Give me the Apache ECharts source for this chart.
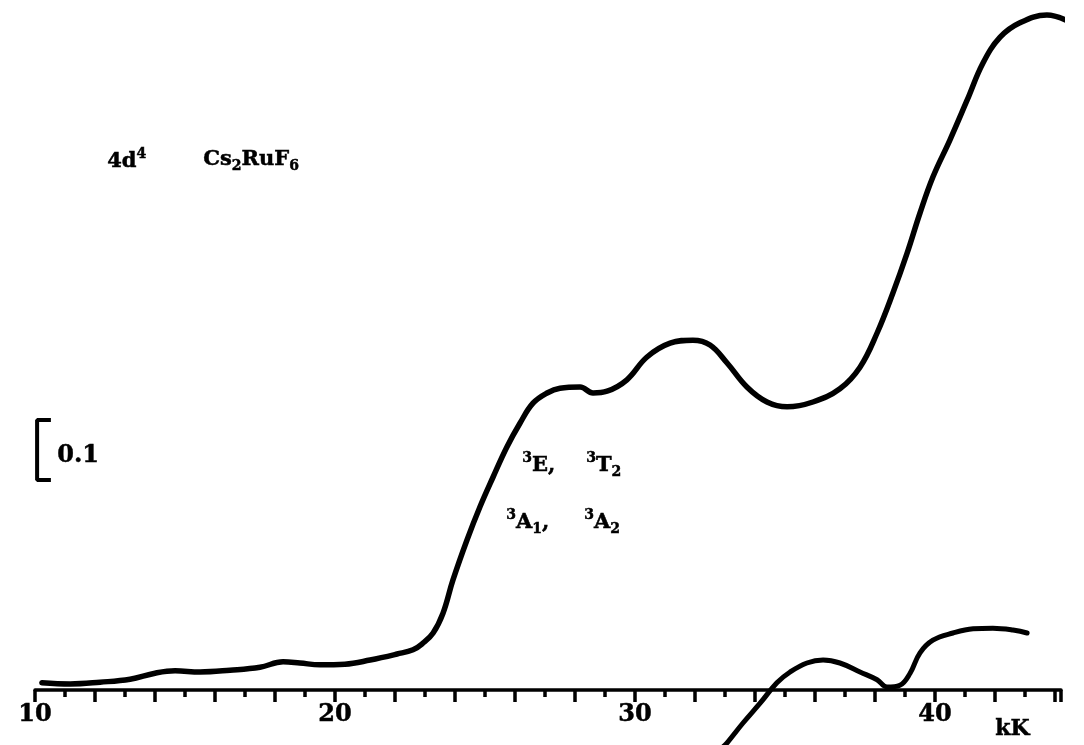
<!DOCTYPE html>
<html>
<head>
<meta charset="utf-8">
<script src="https://cdn.jsdelivr.net/npm/echarts@6/dist/echarts.min.js"></script>
<style>
  html, body { margin: 0; padding: 0; background: #fff; }
  #root { width: 1084px; height: 745px; }
</style>
</head>
<body>
<div id="root"></div>
<script>
// wavenumber in kK, absorbance (arbitrary baseline)
const mainX = [10.23, 11.17, 12.17, 13.17, 14.0, 14.67, 15.5, 16.5, 17.5, 18.27, 18.83, 19.5, 20.33, 21.17,
  22.07, 22.6, 22.93, 23.27, 23.6, 23.93, 24.4, 24.83, 25.27, 25.73, 26.17, 26.6, 27.07, 27.5, 28.17,
  28.6, 29.07, 29.73, 30.4, 31.17, 31.93, 32.5, 33.07, 33.73, 34.4, 35.07, 35.93, 36.83, 37.5, 38.07,
  38.6, 39.07, 39.5, 39.93, 40.5, 41.07, 41.6, 42.17, 42.83, 43.73, 44.5]
const mainY = [0.012, 0.010, 0.013, 0.018, 0.028, 0.032, 0.030, 0.033, 0.038, 0.047, 0.045, 0.042, 0.043, 0.050,
  0.060, 0.067, 0.078, 0.095, 0.128, 0.183, 0.250, 0.305, 0.355, 0.405, 0.445, 0.478, 0.495, 0.503, 0.505,
  0.495, 0.498, 0.517, 0.555, 0.578, 0.583, 0.575, 0.545, 0.505, 0.480, 0.472, 0.480, 0.502, 0.538, 0.595,
  0.662, 0.728, 0.795, 0.855, 0.917, 0.983, 1.045, 1.088, 1.112, 1.125, 1.113]

const lowerX = [32.93, 33.07, 33.6, 34.17, 34.73, 35.17, 35.73, 36.27, 36.83, 37.5, 38.07, 38.4, 38.83,
  39.17, 39.5, 39.93, 40.6, 41.27, 41.93, 42.6, 43.07]
const lowerY = [-0.095, -0.088, -0.055, -0.022, 0.012, 0.030, 0.045, 0.050, 0.045, 0.030, 0.017, 0.005, 0.008,
  0.028, 0.062, 0.083, 0.095, 0.102, 0.103, 0.100, 0.095]

// 0.1 scale bracket
const scaleBarX = [10.53, 10.07, 10.07, 10.53]
const scaleBarY = [0.45, 0.45, 0.35, 0.35]

const xLabels = [10, 20, 30, 40]

const zip = (xs, ys) => xs.map((x, i) => [x, ys[i]])

const FONT = "'DejaVu Serif', 'Liberation Serif', serif"
const ink = { fill: '#000', stroke: '#000', lineWidth: 0.5, fontFamily: FONT, fontWeight: 'bold', lineHeight: 28 }
const rich = {
  n: { ...ink, fontSize: 21 },
  sup: { ...ink, fontSize: 14, verticalAlign: 'top' },
  sub: { ...ink, fontSize: 14, verticalAlign: 'bottom' }
}
const label = (left, top, text) => ({ type: 'text', left, top, style: { text, rich } })

const chart = echarts.init(document.getElementById('root'))
chart.setOption({
  animation: false,
  backgroundColor: '#fff',
  grid: { left: 35, top: 0, width: 1026, height: 690, outerBoundsMode: 'none', containLabel: false },
  xAxis: {
    type: 'value',
    position: 'bottom',
    min: 10,
    max: 44.2,
    interval: 2,
    splitLine: { show: false },
    axisLine: { onZero: false, lineStyle: { color: '#000', width: 3.5 } },
    axisTick: { inside: false, length: 12, lineStyle: { color: '#000', width: 3.5 } },
    minorTick: { show: true, splitNumber: 2, length: 7, lineStyle: { color: '#000', width: 3.5 } },
    axisLabel: {
      margin: 13,
      color: '#000',
      fontFamily: FONT,
      fontWeight: 'bold',
      fontSize: 24,
      textBorderColor: '#000',
      textBorderWidth: 0.5,
      showMaxLabel: false,
      formatter: v => (xLabels.indexOf(v) >= 0 ? String(v) : '')
    }
  },
  yAxis: { type: 'value', min: 0, max: 1.15, show: false },
  series: [
    {
      type: 'line', data: zip(mainX, mainY), smooth: 0.4, symbol: 'none', clip: false,
      lineStyle: { color: '#000', width: 5.5, cap: 'round' }
    },
    {
      type: 'line', data: zip(lowerX, lowerY), smooth: 0.4, symbol: 'none', clip: false,
      lineStyle: { color: '#000', width: 5, cap: 'round' }
    },
    {
      type: 'line', data: zip(scaleBarX, scaleBarY), symbol: 'none',
      lineStyle: { color: '#000', width: 4 }
    }
  ],
  graphic: [
    label(107, 147, '{n|4d}{sup|4}'),
    label(203, 149, '{n|Cs}{sub|2}{n|RuF}{sub|6}'),
    label(522, 451, '{sup|3}{n|E,}'),
    label(586, 451, '{sup|3}{n|T}{sub|2}'),
    label(506, 508, '{sup|3}{n|A}{sub|1}{n|,}'),
    label(584, 508, '{sup|3}{n|A}{sub|2}'),
    { type: 'text', left: 57, top: 444, style: { text: '0.1', font: 'bold 24px ' + FONT, fill: '#000', stroke: '#000', lineWidth: 0.5 } },
    { type: 'text', left: 995, top: 718, style: { text: 'kK', font: 'bold 22px ' + FONT, fill: '#000', stroke: '#000', lineWidth: 0.5 } }
  ]
})
</script>
</body>
</html>
